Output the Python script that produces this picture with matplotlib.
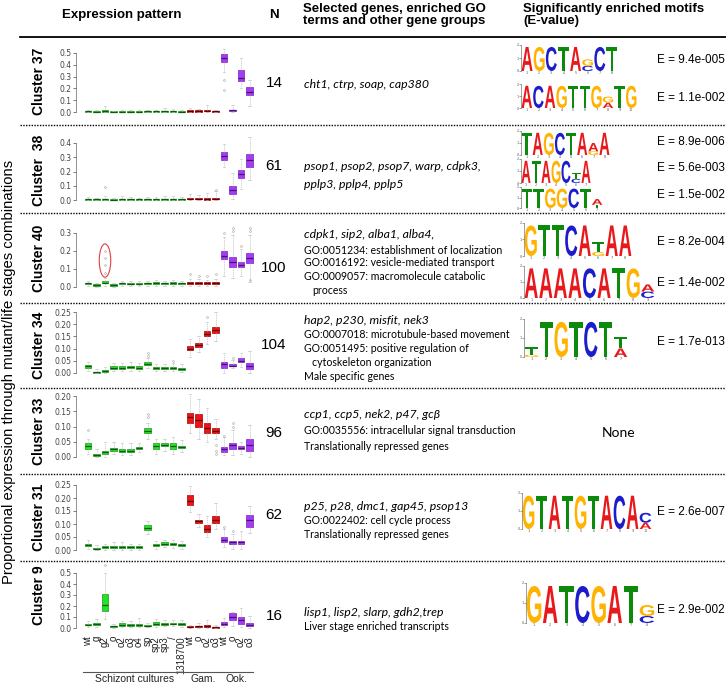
import matplotlib
matplotlib.use("Agg")
import matplotlib.pyplot as plt
from matplotlib.patches import PathPatch, Ellipse
from matplotlib.textpath import TextPath
from matplotlib.font_manager import FontProperties
from matplotlib.transforms import Affine2D, blended_transform_factory

W, H = 726, 684

# ---------------- data ----------------
conditions = ["wt", "g", "g2", "o", "o2", "o3", "o4", "sp", "sp2", "sp3", "/", "1318700",
              "wt", "o", "o2", "o3", "wt", "o", "o2", "o3"]
stage_groups = [("Schizont cultures", 1, 12), ("Gam.", 13, 16), ("Ook.", 17, 20)]

clusters = ["Cluster 37", "Cluster  38", "Cluster 40", "Cluster 34", "Cluster 33", "Cluster 31", "Cluster 9"]
n_genes = [14, 61, 100, 104, 96, 62, 16]

# boxplot statistics per cluster (20 conditions each)
c37_med = [0.005, 0.004, 0.008, 0.003, 0.004, 0.004, 0.004, 0.005, 0.005, 0.005, 0.005, 0.004, 0.008, 0.008, 0.012, 0.006, 0.46, 0.015, 0.29, 0.17]
c37_q1 = [0.002, 0.001, 0.003, 0.0, 0.001, 0.001, 0.001, 0.002, 0.002, 0.002, 0.002, 0.001, 0.004, 0.004, 0.006, 0.003, 0.42, 0.008, 0.26, 0.14]
c37_q3 = [0.009, 0.008, 0.014, 0.007, 0.008, 0.008, 0.008, 0.009, 0.009, 0.009, 0.009, 0.008, 0.013, 0.013, 0.02, 0.01, 0.49, 0.021, 0.36, 0.21]
c37_lo = [0.0, 0.0, 0.0, 0.0, 0.0, 0.0, 0.0, 0.0, 0.0, 0.0, 0.0, 0.0, 0.0, 0.0, 0.0, 0.0, 0.34, 0.0, 0.2, 0.05]
c37_hi = [0.02, 0.015, 0.05, 0.012, 0.015, 0.015, 0.015, 0.02, 0.02, 0.03, 0.025, 0.02, 0.03, 0.025, 0.06, 0.02, 0.53, 0.06, 0.46, 0.27]
c37_fl = {16: [0.27, 0.19]}

c38_med = [0.006, 0.004, 0.006, 0.003, 0.005, 0.004, 0.004, 0.006, 0.006, 0.006, 0.006, 0.005, 0.01, 0.009, 0.007, 0.008, 0.31, 0.07, 0.18, 0.28]
c38_q1 = [0.003, 0.001, 0.003, 0.0, 0.002, 0.001, 0.001, 0.003, 0.003, 0.003, 0.003, 0.002, 0.006, 0.005, 0.003, 0.004, 0.28, 0.04, 0.155, 0.23]
c38_q3 = [0.01, 0.008, 0.01, 0.007, 0.009, 0.008, 0.008, 0.01, 0.01, 0.01, 0.01, 0.009, 0.015, 0.014, 0.012, 0.013, 0.335, 0.1, 0.21, 0.32]
c38_lo = [0.0, 0.0, 0.0, 0.0, 0.0, 0.0, 0.0, 0.0, 0.0, 0.0, 0.0, 0.0, 0.0, 0.0, 0.0, 0.0, 0.23, 0.01, 0.08, 0.14]
c38_hi = [0.02, 0.015, 0.03, 0.012, 0.03, 0.02, 0.015, 0.02, 0.02, 0.025, 0.03, 0.02, 0.04, 0.035, 0.05, 0.06, 0.39, 0.19, 0.29, 0.44]
c38_fl = {2: [0.09], 15: [0.07]}

c40_med = [0.02, 0.012, 0.025, 0.012, 0.02, 0.018, 0.018, 0.02, 0.022, 0.02, 0.022, 0.02, 0.022, 0.022, 0.02, 0.02, 0.175, 0.14, 0.125, 0.16]
c40_q1 = [0.016, 0.008, 0.02, 0.008, 0.016, 0.014, 0.014, 0.016, 0.018, 0.016, 0.018, 0.016, 0.015, 0.016, 0.014, 0.014, 0.155, 0.11, 0.11, 0.135]
c40_q3 = [0.025, 0.016, 0.034, 0.016, 0.025, 0.022, 0.023, 0.025, 0.027, 0.025, 0.028, 0.025, 0.03, 0.03, 0.028, 0.028, 0.2, 0.165, 0.14, 0.19]
c40_lo = [0.005, 0.0, 0.005, 0.0, 0.005, 0.003, 0.003, 0.005, 0.005, 0.005, 0.005, 0.005, 0.005, 0.005, 0.005, 0.005, 0.06, 0.05, 0.06, 0.03]
c40_hi = [0.035, 0.025, 0.05, 0.025, 0.035, 0.035, 0.035, 0.035, 0.04, 0.035, 0.04, 0.035, 0.045, 0.045, 0.04, 0.045, 0.28, 0.29, 0.21, 0.29]
c40_fl = {2: [0.08, 0.12, 0.16, 0.2], 12: [0.07], 13: [0.06], 14: [0.06], 15: [0.07],
          16: [0.3], 17: [0.33, 0.31], 18: [0.23], 19: [0.33, 0.31, 0.04]}

c34_med = [0.028, 0.003, 0.007, 0.022, 0.022, 0.025, 0.022, 0.038, 0.02, 0.022, 0.022, 0.018, 0.10, 0.115, 0.16, 0.175, 0.035, 0.03, 0.05, 0.03]
c34_q1 = [0.022, 0.001, 0.004, 0.018, 0.018, 0.02, 0.018, 0.033, 0.016, 0.018, 0.018, 0.014, 0.094, 0.107, 0.15, 0.163, 0.02, 0.027, 0.045, 0.018]
c34_q3 = [0.034, 0.005, 0.011, 0.027, 0.027, 0.03, 0.027, 0.045, 0.025, 0.026, 0.026, 0.022, 0.11, 0.125, 0.172, 0.19, 0.045, 0.035, 0.06, 0.04]
c34_lo = [0.01, 0.0, 0.0, 0.008, 0.008, 0.01, 0.008, 0.02, 0.008, 0.008, 0.008, 0.005, 0.065, 0.085, 0.12, 0.13, 0.0, 0.02, 0.025, 0.0]
c34_hi = [0.045, 0.015, 0.025, 0.04, 0.04, 0.045, 0.04, 0.06, 0.035, 0.035, 0.04, 0.035, 0.14, 0.15, 0.21, 0.25, 0.08, 0.055, 0.08, 0.09]
c34_fl = {7: [0.08, 0.07], 10: [0.05], 14: [0.23], 17: [0.06]}

c33_med = [0.035, 0.005, 0.015, 0.025, 0.02, 0.02, 0.03, 0.085, 0.035, 0.04, 0.035, 0.032, 0.13, 0.12, 0.095, 0.085, 0.025, 0.04, 0.03, 0.04]
c33_q1 = [0.025, 0.002, 0.01, 0.02, 0.015, 0.015, 0.025, 0.078, 0.025, 0.035, 0.025, 0.028, 0.11, 0.1, 0.08, 0.08, 0.018, 0.025, 0.025, 0.02]
c33_q3 = [0.045, 0.01, 0.02, 0.03, 0.025, 0.025, 0.034, 0.095, 0.045, 0.047, 0.045, 0.037, 0.145, 0.14, 0.11, 0.095, 0.032, 0.045, 0.035, 0.058]
c33_lo = [0.01, 0.0, 0.0, 0.01, 0.005, 0.005, 0.015, 0.06, 0.01, 0.02, 0.01, 0.015, 0.08, 0.06, 0.05, 0.06, 0.005, 0.005, 0.01, 0.0]
c33_hi = [0.06, 0.025, 0.05, 0.05, 0.045, 0.045, 0.045, 0.11, 0.06, 0.06, 0.065, 0.055, 0.205, 0.19, 0.16, 0.125, 0.065, 0.09, 0.05, 0.105]
c33_fl = {0: [0.09], 7: [0.14, 0.13], 15: [0.04, 0.02, 0.01], 16: [0.07], 17: [0.11, 0.1]}

c31_med = [0.02, 0.005, 0.01, 0.012, 0.012, 0.01, 0.01, 0.085, 0.02, 0.025, 0.022, 0.02, 0.19, 0.11, 0.08, 0.115, 0.04, 0.03, 0.03, 0.115]
c31_q1 = [0.016, 0.002, 0.006, 0.008, 0.008, 0.007, 0.007, 0.078, 0.016, 0.02, 0.018, 0.016, 0.175, 0.104, 0.07, 0.105, 0.03, 0.022, 0.022, 0.09]
c31_q3 = [0.025, 0.008, 0.014, 0.016, 0.016, 0.014, 0.014, 0.095, 0.025, 0.03, 0.027, 0.025, 0.21, 0.117, 0.095, 0.13, 0.05, 0.036, 0.036, 0.135]
c31_lo = [0.005, 0.0, 0.0, 0.0, 0.0, 0.0, 0.0, 0.06, 0.005, 0.01, 0.008, 0.005, 0.145, 0.09, 0.05, 0.08, 0.01, 0.005, 0.005, 0.065]
c31_hi = [0.04, 0.02, 0.025, 0.03, 0.03, 0.025, 0.025, 0.11, 0.035, 0.04, 0.04, 0.035, 0.245, 0.14, 0.13, 0.18, 0.08, 0.06, 0.075, 0.17]
c31_fl = {16: [0.09], 17: [0.075]}

c9_med = [0.03, 0.04, 0.21, 0.015, 0.03, 0.025, 0.03, 0.02, 0.04, 0.04, 0.04, 0.035, 0.01, 0.015, 0.02, 0.008, 0.04, 0.1, 0.07, 0.03]
c9_q1 = [0.025, 0.028, 0.155, 0.01, 0.02, 0.02, 0.022, 0.015, 0.03, 0.03, 0.032, 0.025, 0.005, 0.008, 0.01, 0.004, 0.025, 0.07, 0.04, 0.015]
c9_q3 = [0.035, 0.047, 0.31, 0.02, 0.045, 0.032, 0.04, 0.027, 0.055, 0.05, 0.048, 0.05, 0.015, 0.022, 0.03, 0.012, 0.055, 0.14, 0.1, 0.05]
c9_lo = [0.01, 0.01, 0.08, 0.0, 0.005, 0.005, 0.01, 0.005, 0.01, 0.015, 0.02, 0.01, 0.0, 0.0, 0.0, 0.0, 0.005, 0.02, 0.01, 0.0]
c9_hi = [0.06, 0.08, 0.5, 0.04, 0.06, 0.06, 0.09, 0.05, 0.08, 0.07, 0.07, 0.07, 0.03, 0.05, 0.07, 0.03, 0.09, 0.15, 0.18, 0.11]
c9_fl = {2: [0.57]}

box_stats = [
    (c37_med, c37_q1, c37_q3, c37_lo, c37_hi, c37_fl),
    (c38_med, c38_q1, c38_q3, c38_lo, c38_hi, c38_fl),
    (c40_med, c40_q1, c40_q3, c40_lo, c40_hi, c40_fl),
    (c34_med, c34_q1, c34_q3, c34_lo, c34_hi, c34_fl),
    (c33_med, c33_q1, c33_q3, c33_lo, c33_hi, c33_fl),
    (c31_med, c31_q1, c31_q3, c31_lo, c31_hi, c31_fl),
    (c9_med, c9_q1, c9_q3, c9_lo, c9_hi, c9_fl),
]
y_tick_top = [0.5, 0.4, 0.3, 0.25, 0.20, 0.25, 0.5]
y_tick_step = [0.1, 0.1, 0.1, 0.05, 0.05, 0.05, 0.1]

# gene text: (kind, text)   kind: g = gene names (italic), t = plain, c = continuation
gene_text = [
    [("g", "cht1, ctrp, soap, cap380")],
    [("g", "psop1, psop2, psop7, warp, cdpk3,"), ("g", "pplp3, pplp4, pplp5")],
    [("g", "cdpk1, sip2, alba1, alba4,"), ("t", "GO:0051234: establishment of localization"),
     ("t", "GO:0016192: vesicle-mediated transport"), ("t", "GO:0009057: macromolecule catabolic"),
     ("c", "process")],
    [("g", "hap2, p230, misfit, nek3"), ("t", "GO:0007018: microtubule-based movement"),
     ("t", "GO:0051495: positive regulation of"), ("c", "cytoskeleton organization"),
     ("t", "Male specific genes")],
    [("g", "ccp1, ccp5, nek2, p47, gc\u03b2"), ("t", "GO:0035556: intracellular signal transduction"),
     ("t", "Translationally repressed genes")],
    [("g", "p25, p28, dmc1, gap45, psop13"), ("t", "GO:0022402: cell cycle process"),
     ("t", "Translationally repressed genes")],
    [("g", "lisp1, lisp2, slarp, gdh2,trep"), ("t", "Liver stage enriched transcripts")],
]

# motifs: each position is "X" (full letter) or "X:h,Y:h" stacked bottom->top (bits)
motifs = [
    [(["A", "G", "C", "T", "A", "C:0.4,G:0.5", "C", "T"], "E = 9.4e-005"),
     (["A", "C", "A", "G", "T", "T", "G", "A:0.45,G:0.5", "T", "G"], "E = 1.1e-002")],
    [(["T", "A", "G", "C", "T", "A", "G:0.3,A:0.7", "A"], "E = 8.9e-006"),
     (["A", "T", "A", "G", "C", "C:0.35,T:0.5", "A"], "E = 5.6e-003"),
     (["T", "T", "G", "G", "C", "T", "T:0.3,A:0.55"], "E = 1.5e-002")],
    [(["G", "T", "T", "C", "A", "G:0.25,T:0.6", "A", "A"], "E = 8.2e-004"),
     (["A", "A", "A", "A", "C", "A", "T", "G", "C:0.4,A:0.45"], "E = 1.4e-002")],
    [(["G:0.12,T:0.38", "T", "G", "T", "C", "T", "A:0.45,T:0.6"], "E = 1.7e-013")],
    [],
    [(["G", "T", "A", "T", "G", "T", "A", "C", "A", "A:0.35,C:0.55"], "E = 2.6e-007")],
    [(["G", "A", "T", "C", "G", "A", "T", "C:0.35,G:0.55"], "E = 2.9e-002")],
]

# ---------------- layout (pixels, origin top-left) ----------------
sep_y = [125, 213, 303, 388, 474, 561]
panel_center = [81, 170, 258, 345, 431, 517, 595]
zero_px = [112, 200, 287, 373, 457, 550, 628]
top_px = [53, 143, 233, 312, 396, 485, 573]
n_y = [83, 166, 268, 345, 433, 515, 616]
text_y = [[84], [167, 184], [235, 250, 263, 277, 291], [320, 334, 348, 362, 377],
          [415, 431, 446], [507, 521, 535], [612, 627]]
logo_box = [  # left, right, y(2 bits), y(0 bits), E-value y
    [(521, 618, 45, 71, 60), (521, 637, 84, 108, 98)],
    [(521, 610, 131, 155, 142), (521, 591, 159, 183, 168), (521, 603, 187, 208, 195)],
    [(524, 632, 223, 256, 242), (524, 655, 266, 298, 283)],
    [(524, 628, 319, 357, 342)],
    [],
    [(522, 652, 493, 529, 512)],
    [(526, 655, 583, 623, 610)],
]
AX_L, AX_R = 76, 256
X_FIRST, X_LAST = 88, 249.5

fig = plt.figure(figsize=(W / 100, H / 100), dpi=100)
PX = Affine2D().scale(1.0 / W, -1.0 / H).translate(0, 1) + fig.transFigure

SANS = "Liberation Sans"
CAL = ["Lato", "DejaVu Sans"]

GREEN = ("#27E027", "#139A13", "#0B5A0B")
RED = ("#EC1414", "#A30000", "#600000")
PURPLE = ("#A63CF2", "#7A1FC0", "#45107A")


def ftext(x, y, s, **kw):
    return fig.text(x, y, s, transform=PX, **kw)


def hline(y, x0=20, x1=726, **kw):
    fig.add_artist(plt.Line2D([x0, x1], [y, y], transform=PX, color="black", **kw))


# headers
ftext(62, 15, "Expression pattern", fontsize=9.5, fontweight="bold", family=SANS, va="center")
ftext(274, 15, "N", fontsize=9.5, fontweight="bold", family=SANS, va="center", ha="center")
ftext(303, 15, "Selected genes, enriched GO\nterms and other gene groups", fontsize=9.5,
      fontweight="bold", family=SANS, va="center", linespacing=1.05)
ftext(523, 15, "Significantly enriched motifs\n(E-value)", fontsize=9.5,
      fontweight="bold", family=SANS, va="center", linespacing=1.05)
hline(37, lw=1.3)
for y in sep_y:
    hline(y, lw=1.0, ls=(0, (1, 1)))

ftext(9, 372, "Proportional expression through mutant/life stages combinations",
      rotation=90, fontsize=10.7, family=SANS, ha="center", va="center")

unit = (X_LAST - X_FIRST) / 19.0
xlim = (1 - (X_FIRST - AX_L) / unit, 20 + (AX_R - X_LAST) / unit)

for k, (med, q1, q3, lo, hi, fl) in enumerate(box_stats):
    p0, pt, vt = zero_px[k], top_px[k], y_tick_top[k]
    s = (p0 - pt) / vt
    ax_top, ax_bot = pt - 12, p0 + 6
    ax = fig.add_axes([AX_L / W, 1 - ax_bot / H, (AX_R - AX_L) / W, (ax_bot - ax_top) / H])
    ax.set_xlim(*xlim)
    ax.set_ylim(-(ax_bot - p0) / s, (p0 - ax_top) / s)
    ax.patch.set_visible(False)

    stats = []
    for i in range(20):
        stats.append({"med": med[i], "q1": q1[i], "q3": q3[i], "whislo": lo[i],
                      "whishi": hi[i], "fliers": fl.get(i, [])})
    res = ax.bxp(stats, positions=range(1, 21), widths=0.72, patch_artist=True,
                 manage_ticks=False,
                 whiskerprops=dict(color="#c4c4c4", lw=0.5, ls=(0, (2, 1))),
                 capprops=dict(color="#c4c4c4", lw=0.5),
                 capwidths=0.35,
                 flierprops=dict(marker="o", ms=1.3, mfc="none", mec="#a0a0a0", mew=0.4),
                 medianprops=dict(lw=0.9))
    for i in range(20):
        col = GREEN if i < 12 else (RED if i < 16 else PURPLE)
        res["boxes"][i].set_facecolor(col[0])
        res["boxes"][i].set_edgecolor(col[1])
        res["boxes"][i].set_linewidth(0.5)
        res["medians"][i].set_color(col[2])

    for side in ("top", "right", "bottom"):
        ax.spines[side].set_visible(False)
    ax.spines["left"].set_bounds(0, vt)
    ax.spines["left"].set_color("#666666")
    ax.spines["left"].set_linewidth(0.5)
    nt = int(round(vt / y_tick_step[k]))
    ticks = [j * y_tick_step[k] for j in range(nt + 1)]
    ax.set_yticks(ticks)
    fmt = "%.1f" if y_tick_step[k] >= 0.1 else "%.2f"
    ax.set_yticklabels([fmt % t for t in ticks])
    ax.tick_params(axis="y", length=2, width=0.5, labelsize=5.5, colors="#444444", pad=1)
    if k == len(box_stats) - 1:
        ax.set_xticks(range(1, 21))
        ax.set_xticklabels(conditions, rotation=90, fontsize=7, family=SANS, color="#222222")
        ax.tick_params(axis="x", length=0, pad=1.5)
        tr = blended_transform_factory(ax.transData, PX)
        for name, a, b in stage_groups:
            ax.plot([a - 0.6, b + 0.4], [672, 672], color="#555555", lw=0.8,
                    transform=tr, clip_on=False)
            ax.text((a + b) / 2.0, 679, name, transform=tr, fontsize=7.5, family=SANS,
                    ha="center", va="center", color="#222222")
    else:
        ax.set_xticks([])
    if k == 2:
        ax.add_patch(Ellipse((3, 0.147), 1.35, 0.185, fill=False, ec="#E04040", lw=0.8))

    ftext(39, panel_center[k], clusters[k], rotation=90, fontsize=10, fontweight="bold",
          family=SANS, ha="center", va="center")
    ftext(274, n_y[k], str(n_genes[k]), fontsize=11, family=SANS, ha="center", va="center")

    for (kind, txt), y in zip(gene_text[k], text_y[k]):
        if kind == "g":
            ftext(304, y, txt, fontsize=8.8, family=CAL, style="italic", va="center")
        elif kind == "t":
            ftext(304, y, txt, fontsize=7.6, family=CAL, va="center")
        else:
            ftext(312, y, txt, fontsize=7.6, family=CAL, va="center")

# ---------------- sequence logos ----------------
LOGO_FONT = FontProperties(family=SANS, weight="bold")
LETTER_COLORS = {"A": "#E8191C", "C": "#1C1CCC", "G": "#FFB300", "T": "#0B8A0B"}
glyphs = {}
for letter in "ACGT":
    p = TextPath((0, 0), letter, size=1, prop=LOGO_FONT)
    glyphs[letter] = (p, p.get_extents())


def draw_letter(ax, letter, x, y, w, h):
    p, bb = glyphs[letter]
    t = Affine2D().translate(-bb.x0, -bb.y0).scale(w / bb.width, h / bb.height).translate(x, y)
    ax.add_patch(PathPatch(t.transform_path(p), fc=LETTER_COLORS[letter], ec="none"))


for k, cl_motifs in enumerate(motifs):
    for (seq, evalue), (xl, xr, y2, y0, ey) in zip(cl_motifs, logo_box[k]):
        n = len(seq)
        ax = fig.add_axes([xl / W, 1 - y0 / H, (xr - xl) / W, (y0 - y2) / H])
        ax.set_xlim(0.5, n + 0.5)
        ax.set_ylim(0, 2)
        ax.patch.set_visible(False)
        for i, pos in enumerate(seq):
            stack = []
            for part in pos.split(","):
                if ":" in part:
                    a, h = part.split(":")
                    stack.append((a, float(h)))
                else:
                    stack.append((part, 1.85))
            base = 0.0
            for a, h in stack:
                draw_letter(ax, a, i + 0.55, base, 0.9, h)
                base += h
        for side in ("top", "right", "bottom"):
            ax.spines[side].set_visible(False)
        ax.spines["left"].set_linewidth(0.4)
        ax.spines["left"].set_color("#555555")
        ax.set_yticks([0, 1, 2])
        ax.set_yticklabels(["0", "1", "2"])
        ax.set_xticks(range(1, n + 1))
        ax.set_xticklabels([str(i) for i in range(1, n + 1)])
        ax.tick_params(axis="y", length=1.2, width=0.4, labelsize=2.4, pad=0.5, colors="#555555")
        ax.tick_params(axis="x", length=0, labelsize=2.4, pad=0.3, colors="#555555")
        ftext(657, ey, evalue, fontsize=8.5, family=SANS, va="center")

ftext(619, 433, "None", fontsize=10, family=CAL, ha="center", va="center")

fig.savefig("out.png", dpi=100)
